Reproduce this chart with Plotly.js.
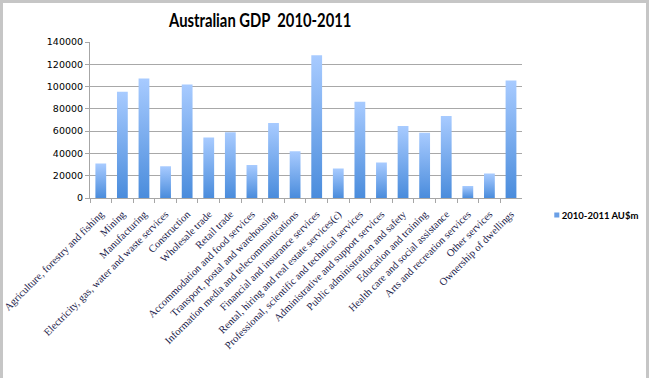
<!DOCTYPE html>
<html>
<head>
<meta charset="utf-8">
<script src="https://cdn.plot.ly/plotly-3.0.1.min.js"></script>
<style>
html,body{margin:0;padding:0;background:#fff;}
#wrap{position:relative;width:649px;height:378px;overflow:hidden;}
#chart{position:absolute;left:0;top:0;width:649px;height:378px;}
#frame{position:absolute;left:0;top:0;width:643px;height:378px;border-left:3px solid #c6c6c6;border-top:3px solid #c6c6c6;border-right:3px solid #c6c6c6;box-sizing:content-box;pointer-events:none;}
</style>
</head>
<body>
<div id="wrap"><div id="chart"></div><div id="frame"></div></div>
<script>
const categories = [
  "Agriculture, forestry and fishing",
  "Mining",
  "Manufacturing",
  "Electricity, gas, water and waste services",
  "Construction",
  "Wholesale trade",
  "Retail trade",
  "Accommodation and food services",
  "Transport, postal and warehousing",
  "Information media and telecommunications",
  "Financial and insurance services",
  "Rental, hiring and real estate services(c)",
  "Professional, scientific and technical services",
  "Administrative and support services",
  "Public administration and safety",
  "Education and training",
  "Health care and social assistance",
  "Arts and recreation services",
  "Other services",
  "Ownership of dwellings"
];
const gdpValues = [30900, 95300, 107300, 28500, 101900, 54300, 59100, 29700, 67400, 42000,
                   128000, 26400, 86300, 31800, 64700, 58500, 73700, 10800, 21900, 105500];
const seriesName = "2010-2011 AU$m";
const yTicks = [0, 20000, 40000, 60000, 80000, 100000, 120000, 140000];

const trace = {
  type: 'bar',
  x: categories,
  y: gdpValues,
  name: seriesName,
  width: 0.5,
  marker: {color: '#7aaaee', line: {width: 0}},
  hoverinfo: 'x+y'
};

const layout = {
  width: 649, height: 378,
  margin: {l: 90, r: 123, t: 42, b: 180},
  paper_bgcolor: '#ffffff',
  plot_bgcolor: '#ffffff',
  title: {
    text: 'Australian GDP  2010-2011',
    font: {family: 'Lato, sans-serif', size: 18.5, color: '#000', weight: 'bold'},
    x: 0.401, xref: 'container', xanchor: 'center',
    y: 0.945, yref: 'container', yanchor: 'middle'
  },
  showlegend: true,
  legend: {
    xref: 'container', yref: 'container',
    x: 0.804, xanchor: 'left', y: 0.431, yanchor: 'middle',
    font: {family: 'Lato, sans-serif', size: 9.5, color: '#000', weight: 'bold'},
    bgcolor: 'rgba(0,0,0,0)',
    itemwidth: 30
  },
  xaxis: {
    type: 'category',
    tickangle: -45,
    tickfont: {family: 'Liberation Serif, Times New Roman, serif', size: 10.5, color: '#1a1a4a'},
    ticklabelstandoff: 5,
    showline: true, linecolor: '#a6a6a6', linewidth: 1,
    ticks: 'outside', tickson: 'boundaries', ticklen: 4, tickcolor: '#a6a6a6',
    showgrid: false,
    automargin: false
  },
  yaxis: {
    range: [0, 140000],
    tickvals: yTicks,
    ticktext: yTicks.map(String),
    tickfont: {family: 'DejaVu Sans, Verdana, sans-serif', size: 9.5, color: '#000'},
    showline: true, linecolor: '#a6a6a6', linewidth: 1,
    ticks: 'outside', ticklen: 4, tickcolor: '#a6a6a6',
    showgrid: true, gridcolor: '#a8a8a8', gridwidth: 1,
    zeroline: false,
    automargin: false
  },
  bargap: 0.5
};

Plotly.newPlot('chart', [trace], layout, {displayModeBar: false, staticPlot: true}).then(function(gd){
  const svg = gd.querySelector('svg.main-svg');
  const ns = 'http://www.w3.org/2000/svg';
  let defs = svg.querySelector('defs');
  if (!defs) { defs = document.createElementNS(ns, 'defs'); svg.insertBefore(defs, svg.firstChild); }
  const grad = document.createElementNS(ns, 'linearGradient');
  grad.setAttribute('id', 'barGrad');
  grad.setAttribute('x1', '0'); grad.setAttribute('y1', '0');
  grad.setAttribute('x2', '0'); grad.setAttribute('y2', '1');
  [['0%', '#a8cbff'], ['100%', '#4a8cdc']].forEach(function(s){
    const st = document.createElementNS(ns, 'stop');
    st.setAttribute('offset', s[0]); st.setAttribute('stop-color', s[1]);
    grad.appendChild(st);
  });
  defs.appendChild(grad);
  gd.querySelectorAll('.bars .point path').forEach(function(p){
    p.style.fill = 'url(#barGrad)';
  });
  gd.querySelectorAll('.legendpoints path').forEach(function(p){
    p.style.fill = '#6a9fe6';
    p.setAttribute('transform', 'translate(35,0) scale(0.42)');
  });
  // condense the title horizontally to mimic the narrow original face
  const t = gd.querySelector('.gtitle');
  if (t) {
    const cx = parseFloat(t.getAttribute('x')) || 260;
    const s = 0.8;
    t.setAttribute('transform', 'translate(' + (cx * (1 - s)) + ',0) scale(' + s + ',1)');
  }
});
</script>
</body>
</html>
